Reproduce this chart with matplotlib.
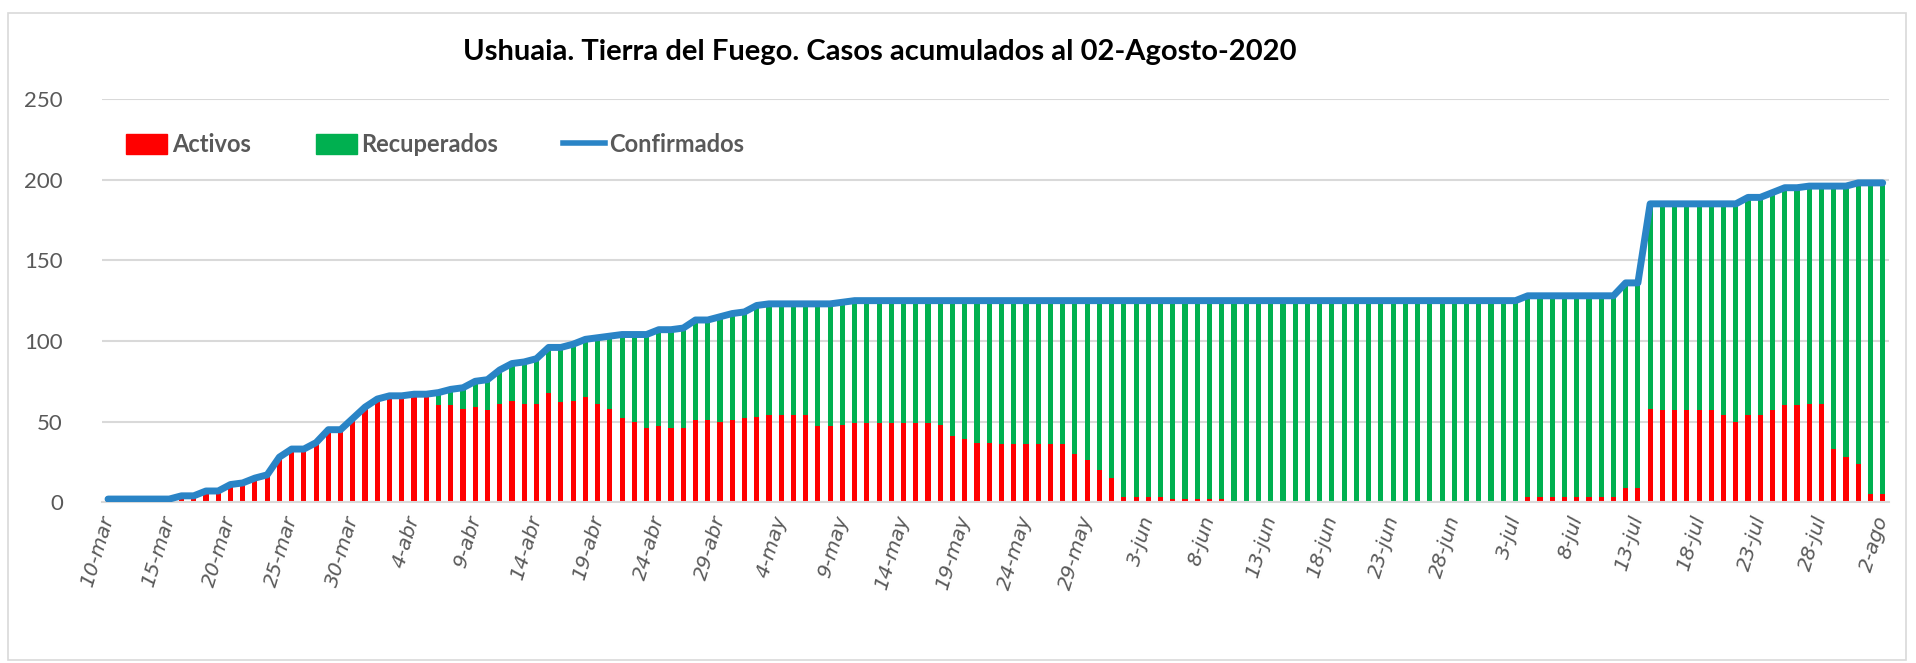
import matplotlib.pyplot as plt
import matplotlib.patches as mpatches
import matplotlib.lines as mlines
import pandas as pd

# daily values, 10-mar-2020 .. 2-ago-2020 (146 days)
confirmados = ([2, 2, 2, 2, 2, 2, 4, 4, 7, 7,
                11, 12, 15, 17, 28, 33, 33, 37, 45, 45,
                52, 59, 64, 66, 66, 67, 67, 68, 70, 71,
                75, 76, 82, 86, 87, 89, 96, 96, 98, 101,
                102, 103, 104, 104, 104, 107, 107, 108, 113, 113,
                115, 117, 118, 122, 123, 123, 123, 123, 123, 123,
                124] + [125] * 55 + [128] * 8 + [136, 136] + [185] * 8
               + [189, 189, 192, 195, 195, 196, 196, 196, 196, 198, 198, 198])

activos = ([2, 2, 2, 2, 2, 2, 4, 4, 7, 7,
            11, 12, 15, 17, 28, 33, 33, 37, 45, 45,
            52, 59, 64, 66, 66, 66, 66, 60, 60, 58,
            59, 57, 61, 63, 61, 61, 68, 62, 63, 65,
            61, 58, 52, 50, 46, 47, 46, 46, 51, 51,
            50, 51, 52, 53, 54, 54, 54, 54, 47, 47,
            48, 49, 49, 49, 49, 49, 49, 49, 48, 41,
            39, 37, 37, 36, 36, 36, 36, 36, 36, 30,
            26, 20, 15, 3, 3, 3, 3, 2, 2, 2,
            2, 2, 1] + [0] * 23
           + [3, 3, 3, 3, 3, 3, 3, 3, 9, 9, 58, 57, 57, 57,
              57, 57, 54, 50, 54, 54, 57, 60, 60, 61,
              61, 33, 28, 24, 5, 5])

recuperados = ([0] * 25
               + [1, 1, 8, 10, 13,
                  16, 19, 21, 23, 26, 28, 28, 34, 35, 36,
                  41, 45, 52, 54, 58, 60, 61, 62, 62, 62,
                  65, 66, 66, 69, 69, 69, 69, 69, 76, 76,
                  76, 76, 76, 76, 76, 76, 76, 76, 77, 84,
                  86, 88, 88, 89, 89, 89, 89, 89, 89, 95,
                  99, 105, 110, 122, 122, 122, 122, 123, 123, 123,
                  123, 123, 124] + [125] * 31
               + [127, 127, 127, 128, 128, 128, 128, 128, 131, 135,
                  135, 135, 135, 135, 135, 135, 135, 163, 168, 174, 193, 193])

meses = {3: 'mar', 4: 'abr', 5: 'may', 6: 'jun', 7: 'jul', 8: 'ago'}
fechas = pd.date_range('2020-03-10', '2020-08-02', freq='D')
etiquetas = [f"{d.day}-{meses[d.month]}" for d in fechas]

x = list(range(len(fechas)))
gray = '#595959'
grid = '#D9D9D9'

fig = plt.figure(figsize=(19.16, 6.63), dpi=100)
ax = fig.add_axes([0.0532, 0.2424, 0.9326, 0.6083])

ax.bar(x, activos, width=0.42, color='#FF0000', zorder=2)
ax.bar(x, recuperados, width=0.42, bottom=activos, color='#00B050', zorder=2)
ax.plot(x, confirmados, color='#2A84C6', lw=5, zorder=3,
        solid_joinstyle='round', solid_capstyle='round')

ax.set_xlim(-0.5, len(x) - 0.5)
ax.set_ylim(0, 250)
ax.set_yticks(range(0, 251, 50))
ax.yaxis.grid(True, color=grid, lw=1.5, zorder=0)
ax.set_axisbelow(True)
for s in ['top', 'right', 'left']:
    ax.spines[s].set_visible(False)
ax.spines['bottom'].set_color(grid)
ax.spines['bottom'].set_linewidth(1.5)
ax.tick_params(axis='y', length=0, pad=28, labelsize=16, labelcolor=gray)
ax.tick_params(axis='x', length=0, pad=10)

ticks = x[::5]
ax.set_xticks(ticks)
ax.set_xticklabels([etiquetas[i] for i in ticks], rotation=73, ha='right',
                   va='center', rotation_mode='anchor', fontsize=14.5,
                   color=gray, style='italic')
for lab in ax.get_yticklabels():
    lab.set_family('Lato')

fig.text(0.459, 0.921, 'Ushuaia. Tierra del Fuego. Casos acumulados al 02-Agosto-2020',
         ha='center', va='center', fontsize=21, fontweight='bold', family='Lato')

handles = [mpatches.Patch(color='#FF0000'), mpatches.Patch(color='#00B050'),
           mlines.Line2D([], [], color='#2A84C6', lw=4)]
leg = fig.legend(handles, ['Activos', 'Recuperados', 'Confirmados'], ncol=3,
                 loc='center left', bbox_to_anchor=(0.0545, 0.782), frameon=False,
                 handlelength=1.75, handleheight=0.9, handletextpad=0.2,
                 columnspacing=2.75, prop={'family': 'Lato', 'weight': 'bold', 'size': 17})
for t in leg.get_texts():
    t.set_color(gray)

fig.patches.append(mpatches.Rectangle((0.004, 0.004), 0.991, 0.976, transform=fig.transFigure,
                                      fill=False, edgecolor=grid, lw=1.2))

fig.savefig('out.png', dpi=100)
